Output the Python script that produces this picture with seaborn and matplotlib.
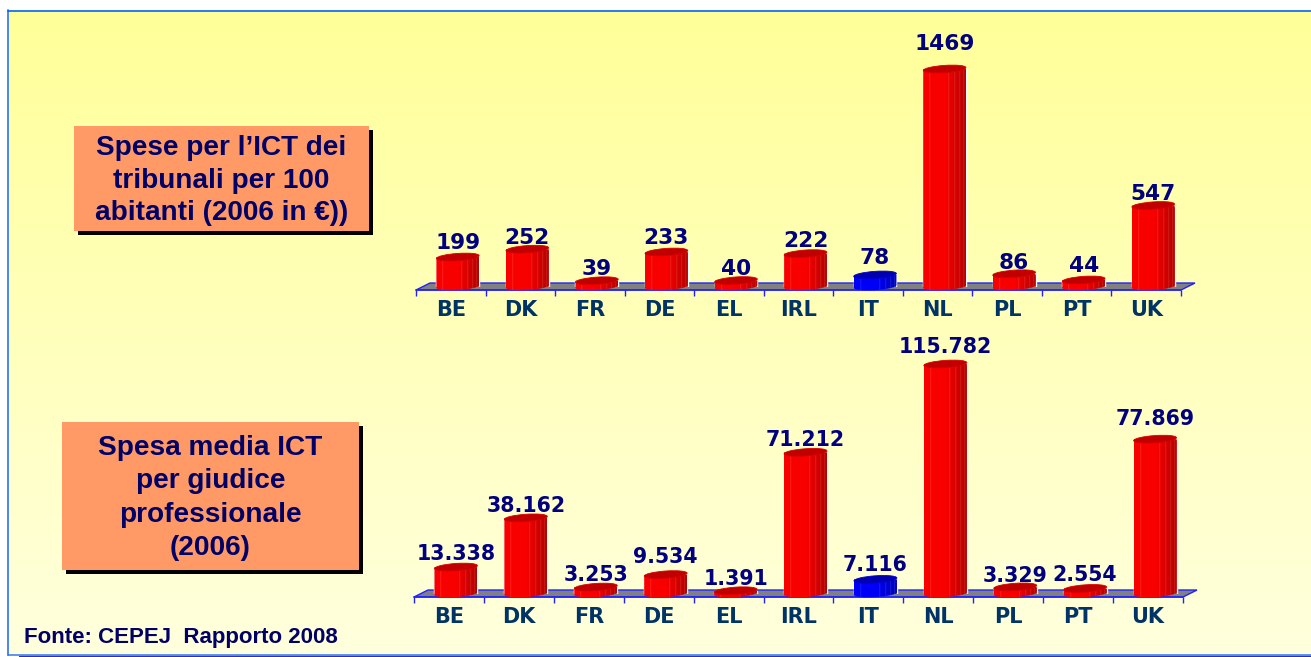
import numpy as np
import pandas as pd
import matplotlib
matplotlib.use("Agg")
import matplotlib.pyplot as plt
import seaborn as sns
from matplotlib.patches import Ellipse, Polygon, Rectangle
from matplotlib.path import Path
from matplotlib.transforms import IdentityTransform

categories = ["BE", "DK", "FR", "DE", "EL", "IRL", "IT", "NL", "PL", "PT", "UK"]
spese_ict = [199, 252, 39, 233, 40, 222, 78, 1469, 86, 44, 547]
spesa_giudice = [13338, 38162, 3253, 9534, 1391, 71212, 7116, 115782, 3329, 2554, 77869]
title_top = "Spese per l’ICT dei\ntribunali per 100\nabitanti (2006 in €))"
title_bottom = "Spesa media ICT\nper giudice\nprofessionale\n(2006)"
source = "Fonte: CEPEJ  Rapporto 2008"

W, H = 1311, 657
RED, BLUE = "#f00000", "#0000e0"
NAVY = "#000080"
LABEL = "#003366"

sns.set_theme(style="white")
plt.rcParams["font.family"] = ["Liberation Sans", "DejaVu Sans"]
fig = plt.figure(figsize=(W / 100, H / 100), dpi=100, facecolor="white")

# page background in pixel coordinates
bg = fig.add_axes([0, 0, 1, 1], zorder=0)
bg.set_xlim(0, W)
bg.set_ylim(H, 0)
bg.axis("off")
grad = np.linspace(0, 1, 256)[:, None, None]
top_c = np.array([1, 1, 0.6])[None, None, :]
bot_c = np.array([1, 1, 0.87])[None, None, :]
bg.imshow(top_c + (bot_c - top_c) * grad, extent=(8, W, 655, 10), aspect="auto", zorder=0)
bg.set_xlim(0, W)
bg.set_ylim(H, 0)
bg.plot([8, 8], [10, 655], color="#4a86f0", lw=1.4, zorder=1)
bg.plot([8, W], [10.5, 10.5], color="#0066ff", lw=1.2, zorder=1)
bg.plot([8, W], [654.8, 654.8], color="#3377ee", lw=1.1, zorder=1)
bg.plot([19, W], [656.4, 656.4], color="#333399", lw=0.9, zorder=1)


def text_box(x0, y0, x1, y1, txt, fs, spacing):
    bg.add_patch(Rectangle((x0 + 4, y0 + 4), x1 - x0, y1 - y0, fc="black", ec="none", zorder=2))
    bg.add_patch(Rectangle((x0, y0), x1 - x0, y1 - y0, fc="#ff9966", ec="none", zorder=3))
    bg.text((x0 + x1) / 2, (y0 + y1) / 2 + 2, txt, ha="center", va="center", fontsize=fs,
            fontweight="bold", color="#000066", linespacing=spacing, zorder=4)


text_box(74, 126, 369, 231, title_top, 20.1, 1.32)
text_box(62, 422, 359, 570, title_bottom, 20.2, 1.37)
bg.text(24, 637, source, ha="left", va="center", fontsize=16, fontweight="bold", color="#000066")


def cylinder_image(base_rgb):
    n = 86
    t = np.linspace(0, 1, n)
    shade = np.where(t < 0.5, 1.0, 1.0 - 0.28 * (t - 0.5) / 0.5)
    col = np.outer(shade, base_rgb)
    for f in (0.16, 0.6, 0.74, 0.86, 0.95):
        i = int(f * n)
        col[i] = np.clip(col[i] * 0.85 + np.array([0.15, 0.25, 0.2]), 0, 1)
    return col[None, :, :]


def draw_panel(values, x0, x1, base_px, px_per_unit, y_top_px, tick_y_px, label_lifts, shift_px, sep, label_fs):
    ax = fig.add_axes([x0 / W, 1 - base_px / H, (x1 - x0) / W, (base_px - y_top_px) / H], zorder=1)
    ax.patch.set_alpha(0)
    df = pd.DataFrame({"paese": categories, "valore": values})
    colors = {c: (BLUE if c == "IT" else RED) for c in categories}
    sns.barplot(data=df, x="paese", y="valore", hue="paese", palette=colors, saturation=1,
                width=0.615, legend=False, ax=ax)
    ymax = (base_px - y_top_px) / px_per_unit
    ax.set_xlim(-0.5, 10.5)
    ax.set_ylim(0, ymax)
    ax.set_xlabel("")
    ax.set_ylabel("")
    ax.set_yticks([])
    sns.despine(ax=ax, left=True)
    offset_pt = (tick_y_px - base_px) * 0.72
    ax.spines["bottom"].set_position(("outward", offset_pt))
    ax.spines["bottom"].set_color("#2222ff")
    ax.spines["bottom"].set_linewidth(1.1)
    ax.set_xticks(np.arange(-0.5, 11), minor=True)
    ax.tick_params(axis="x", which="minor", length=4, width=1, color="#2222ff", bottom=True)
    ax.tick_params(axis="x", which="major", length=0, pad=7)
    for lab in ax.get_xticklabels():
        lab.set_fontfamily("DejaVu Sans")
        lab.set_fontweight("bold")
        lab.set_fontsize(15)
        lab.set_color(LABEL)

    # floor of the 3D plot
    bg.add_patch(Polygon([(x0, tick_y_px), (x1, tick_y_px), (x1 + 14, tick_y_px - 7), (x0 + 14, tick_y_px - 7)],
                         closed=True, fc="#808080", ec="#2222ff", lw=1.0, zorder=1.5))

    dx = shift_px * 11 / (x1 - x0)
    bars = list(ax.patches)
    for bar, val, cat, lift in zip(bars, values, categories, label_lifts):
        bar.set_x(bar.get_x() + dx)
        bx0, bw = bar.get_x(), bar.get_width()
        (px0, py0), (px1, py1) = ax.transData.transform([(bx0, 0), (bx0 + bw, val)])
        cx, rx = (px0 + px1) / 2, (px1 - px0) / 2
        ry = 3.6
        base = np.array([0, 0, 1.0]) if cat == "IT" else np.array([1.0, 0, 0])
        im = ax.imshow(cylinder_image(base * 0.98), extent=(bx0, bx0 + bw, -10 / px_per_unit, val),
                       aspect="auto", zorder=3, interpolation="bilinear")
        th = np.linspace(np.pi, 2 * np.pi, 40)
        lower = np.c_[cx + rx * np.cos(th), py0 + ry * np.sin(th) + rx * np.cos(th) * 0.06]
        verts = np.vstack([lower, [(px1, py1)], [(px0, py1)], lower[:1]])
        im.set_clip_box(fig.bbox)
        im.set_clip_path(Path(verts), IdentityTransform())
        lid = "#0000b0" if cat == "IT" else "#c00000"
        ax.add_patch(Ellipse((cx, py1), 2 * rx, 2 * ry, angle=4, fc=lid, ec=base * 0.85,
                             lw=0.6, transform=IdentityTransform(), zorder=4, clip_on=False))
        text = f"{val:,}".replace(",", ".") if sep else str(val)
        ax.annotate(text, (bx0 + bw / 2, val), xytext=(0, lift * 0.72),
                    textcoords="offset points", ha="center", va="center", annotation_clip=False,
                    fontsize=label_fs, fontweight="bold", color=NAVY, family="DejaVu Sans", zorder=5)
    ax.set_xlim(-0.5, 10.5)
    ax.set_ylim(0, ymax)
    return ax


lifts_top = [14, 11, 12, 14, 12, 13, 17, 25, 11, 14, 12]
lifts_bottom = [13, 12, 12, 18, 12, 12, 14, 17, 11, 13, 20]
draw_panel(spese_ict, 416, 1181, 286.5, 217.5 / 1469, 30, 290, lifts_top, 7, False, 15.6)
draw_panel(spesa_giudice, 414, 1183, 593.5, 229.5 / 115782, 340, 597, lifts_bottom, 7, True, 14.8)

fig.savefig("out.png", dpi=100, facecolor="white")
